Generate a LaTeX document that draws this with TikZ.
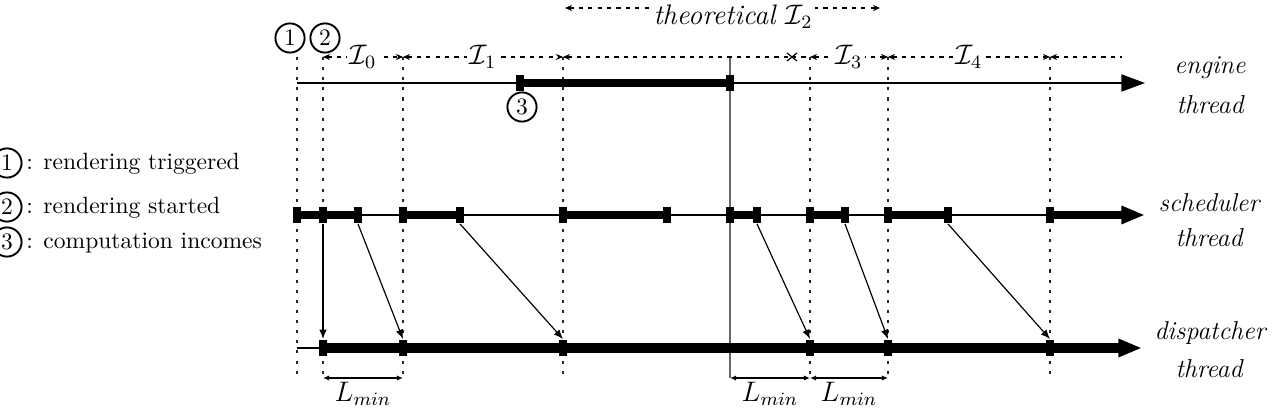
\documentclass[tikz,border=0pt]{standalone}
\usetikzlibrary{arrows.meta,calc}
\begin{document}
\begin{tikzpicture}[x=0.425pt,y=-0.425pt,
  guide/.style={draw=black!85, line width=0.6pt, dash pattern=on 1.3pt off 3pt},
  ival/.style={line width=0.5pt, dash pattern=on 1.8pt off 2.2pt},
  ltip/.style={{Stealth[length=3pt,width=2.6pt]}-},
  itip/.style={{Stealth[length=3pt,width=2.6pt]}-{Stealth[length=3pt,width=2.6pt]}},
  sq/.style={fill=black, inner sep=0pt, minimum width=3.6pt, minimum height=7.2pt},
  esq/.style={sq, minimum height=6.4pt},
  num/.style={circle, draw, line width=0.8pt, inner sep=0pt, minimum size=12.4pt},
  thinline/.style={line width=0.8pt},
  fat/.style={line width=3.4pt},
  fatter/.style={line width=4.2pt},
  bigtip/.style={-{Triangle[length=10pt,width=7.2pt]}},
  conn/.style={line width=0.5pt, -{Latex[length=4pt,width=3.2pt]}},
  dim/.style={line width=0.5pt, {Latex[length=2.6pt,width=2.2pt]}-{Latex[length=2.6pt,width=2.2pt]}},
  lbl/.style={fill=white, inner sep=1pt, font=\large},
  lmin/.style={font=\large, inner sep=0pt},
  thr/.style={font=\fontsize{11}{13}\selectfont\itshape}]
\useasboundingbox (0,0) rectangle (1276,408);

% guide coordinates
\foreach \n/\x in {1/297,2/323,3/403,4/563,5/810,6/888,7/1050}{
  \coordinate (t\n) at (\x,57);
  \coordinate (b\n) at (\x,378);
}
\coordinate (gt) at (730,57);
\coordinate (gb) at (730,378);

% guides
\foreach \n in {1,...,7}{ \draw[guide] (t\n) -- (b\n); }
\draw[black!60, line width=0.8pt] (gt) -- (gb);

% interval row
\draw[ival, itip] (t2) -- node[lbl] {$\mathcal{I}_0$} (t3);
\draw[ival, itip] (t3) -- node[lbl] {$\mathcal{I}_1$} (t4);
\coordinate (xm) at (792,57);
\draw[ival, ltip] (t4) -- (xm);
\draw[ival] (xm) -- (t5);
\draw[line width=0.5pt] ($(xm)+(-5,-4)$) -- ($(xm)+(5,4)$) ($(xm)+(-5,4)$) -- ($(xm)+(5,-4)$);
\draw[ival, itip] (t5) -- node[lbl] {$\mathcal{I}_3$} (t6);
\draw[ival, itip] (t6) -- node[lbl] {$\mathcal{I}_4$} (t7);
\coordinate (tend) at (1122,57);
\draw[ival, ltip] (t7) -- (tend);

% theoretical I2
\coordinate (th1) at (565,8);
\coordinate (th2) at (880,8);
\draw[ival, itip] (th1) -- (th2);
\node[lbl, inner ysep=0pt] (thl) at (733,17) {\textit{theoretical} $\mathcal{I}_2$};

% circled marks
\node[num] (c1) at (290,38) {1};
\node[num] (c2) at (325,38) {2};

% engine thread
\coordinate (e0) at (297,83);
\coordinate (eend) at (1145,83);
\node[esq] (e1) at (520,83) {};
\node[esq] (e2) at (730,83) {};
\draw[thinline, bigtip] (e0) -- (eend);
\draw[fat] (e1.center) -- (e2.center);
\node[num] (c3) at (522,107) {3};

% scheduler thread
\foreach \n/\x in {1/297,2/323,3/358,4/403,5/460,6/563,7/667,8/730,9/757,10/810,11/845,12/888,13/948,14/1050}{
  \node[sq] (s\n) at (\x,215) {};
}
\coordinate (send) at (1145,215);
\draw[thinline] (s1.center) -- (s14.center);
\draw[fat] (s1.center) -- (s3.center);
\draw[fat] (s4.center) -- (s5.center);
\draw[fat] (s6.center) -- (s7.center);
\draw[fat] (s8.center) -- (s9.center);
\draw[fat] (s10.center) -- (s11.center);
\draw[fat] (s12.center) -- (s13.center);
\draw[fat, bigtip] (s14.center) -- (send);

% dispatcher thread
\foreach \n/\x in {1/323,2/403,3/563,4/810,5/888,6/1050}{
  \node[sq] (d\n) at (\x,348) {};
}
\coordinate (d0) at (297,348);
\coordinate (dend) at (1142,348);
\draw[thinline] (d0) -- (d1.center);
\draw[fatter, bigtip] (d1.center) -- (dend);

% connectors
\draw[conn] (s2.south) -- (d1.north);
\draw[conn] (s3.south) -- (d2.north);
\draw[conn] (s5.south) -- (d3.north);
\draw[conn] (s9.south) -- (d4.north);
\draw[conn] (s11.south) -- (d5.north);
\draw[conn] (s13.south) -- (d6.north);

% L_min
\draw[dim] (b2) -- (b3);
\draw[dim] (gb) -- (b5);
\draw[dim] (b5) -- (b6);
\node[lmin] (lm1) at (363,394) {$L_{min}$};
\node[lmin] (lm2) at (770,394) {$L_{min}$};
\node[lmin] (lm3) at (849,394) {$L_{min}$};

% thread labels
\node[thr] (en1) at (1210,68) {engine};
\node[thr] (en2) at (1210,105) {thread};
\node[thr] (sc1) at (1209,203) {scheduler};
\node[thr] (sc2) at (1209,238) {thread};
\node[thr] (di1) at (1210,333) {dispatcher};
\node[thr] (di2) at (1209,369) {thread};

% legend
\node[num] (l1) at (7,163) {1};
\node[num] (l2) at (7,207) {2};
\node[num] (l3) at (7,242) {3};
\node[anchor=base west, inner sep=0pt] (lt1) at (26,170) {: rendering triggered};
\node[anchor=base west, inner sep=0pt] (lt2) at (26,214) {: rendering started};
\node[anchor=base west, inner sep=0pt] (lt3) at (26,249) {: computation incomes};
\end{tikzpicture}
\end{document}
